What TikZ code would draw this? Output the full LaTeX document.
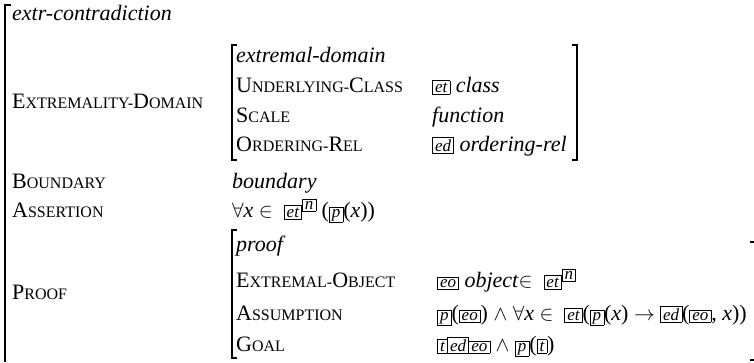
\documentclass[tikz,border=0pt]{standalone}
\usepackage{fontspec}
\setmainfont{Liberation Serif}
\usetikzlibrary{positioning}

% fonts and little helpers for the feature structure
\newcommand\avmfont{\fontsize{22}{26}\selectfont}
\newcommand\smc[1]{{\fontsize{16}{19}\selectfont #1}}
\newcommand\tbox[1]{{\setlength\fboxsep{1.5pt}\setlength\fboxrule{0.6pt}\fbox{\fontsize{17}{19}\selectfont\itshape\kern0.8pt #1\kern0.8pt}}}
\newcommand\tsup[1]{\raisebox{8pt}{\tbox{#1}}}

\tikzset{
  feat/.style={anchor=base west, inner sep=0pt, font=\avmfont},
  val/.style={feat, font=\avmfont\itshape},
  brack/.style={line width=1.2pt},
  outerbrack/.style={line width=2pt},
}

\begin{document}
\begin{tikzpicture}[x=1pt, y=-1pt]
    \useasboundingbox (0,0) rectangle (754,362);

    % ==========================================
    % Outer structure
    % ==========================================
    \draw[outerbrack] (11,5) -- (5,5) -- (5,362);
    \node[val] (title) at (12,20) {extr-contradiction};

    \node[feat] (k-dom) at (12,108) {E\smc{XTREMALITY-}D\smc{OMAIN}};
    \node[feat] (k-bnd) at (12,188) {B\smc{OUNDARY}};
    \node[feat] (k-ass) at (12,217) {A\smc{SSERTION}};
    \node[feat] (k-prf) at (12,299) {P\smc{ROOF}};

    % ==========================================
    % Extremality domain (inner matrix)
    % ==========================================
    \draw[brack] (237,45) -- (232,45) -- (232,160) -- (237,160);
    \draw[brack] (572,45) -- (577,45) -- (577,160) -- (572,160);
    \node[val]  (dom-type)  at (236,62)  {extremal-domain};
    \node[feat] (dom-class) at (236,92)  {U\smc{NDERLYING-}C\smc{LASS}};
    \node[feat] (dom-scale) at (236,122) {S\smc{CALE}};
    \node[feat] (dom-ord)   at (236,151) {O\smc{RDERING-}R\smc{EL}};
    \node[feat] (v-class)   at (432,92)  {\tbox{et} \textit{class}};
    \node[val]  (v-scale)   at (432,122) {function};
    \node[feat] (v-ord)     at (432,151) {\tbox{ed} \textit{ordering-rel}};

    % Boundary and assertion values
    \node[val]  (v-bnd) at (232,188) {boundary};
    \node[feat] (v-ass) at (232,217) {$\forall$\textit{x} $\in$\enspace\tbox{et}\tsup{n} (\tbox{p}(\textit{x}))};

    % ==========================================
    % Proof (inner matrix)
    % ==========================================
    \draw[brack] (237,230) -- (232,230) -- (232,358) -- (237,358);
    \draw[brack] (750,242) -- (754,242);
    \draw[brack] (750,360) -- (754,360);
    \node[val]  (prf-type) at (236,251) {proof};
    \node[feat] (prf-obj)  at (236,287) {E\smc{XTREMAL-}O\smc{BJECT}};
    \node[feat] (prf-asm)  at (236,320) {A\smc{SSUMPTION}};
    \node[feat] (prf-goal) at (236,351) {G\smc{OAL}};
    \node[feat] (v-obj)  at (437,287) {\tbox{eo} \textit{object}$\in$\enspace\tbox{et}\tsup{n}};
    \node[feat] (v-asm)  at (437,320) {\tbox{p}(\tbox{eo}) $\wedge$ $\forall$\textit{x} $\in$\enspace\tbox{et}(\tbox{p}(\textit{x}) $\to$ \tbox{ed}(\tbox{eo}, \textit{x}))};
    \node[feat] (v-goal) at (437,351) {\tbox{t}\kern-0.6pt\tbox{ed}\kern-0.6pt\tbox{eo} $\wedge$ \tbox{p}(\tbox{t})};
\end{tikzpicture}
\end{document}
